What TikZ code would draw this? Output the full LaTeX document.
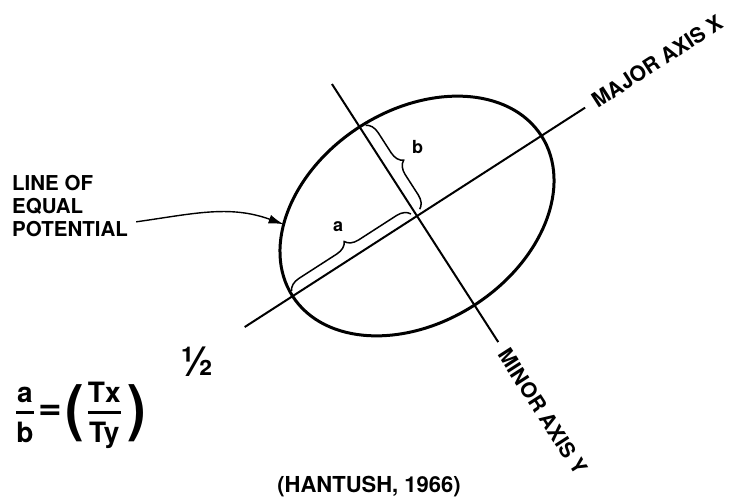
\documentclass[tikz,border=0pt]{standalone}
\usepackage{amsmath}
\usepackage{graphicx}
\usepackage{fontspec}
\setmainfont{TeX Gyre Heros}
\usepackage{tikz}
\usetikzlibrary{arrows.meta,calc,decorations.pathreplacing}
\tikzset{
  ell/.style={draw=black,line width=3pt},
  axl/.style={draw=black,line width=2pt},
  brc/.style={decorate,decoration={brace,amplitude=13pt},line width=1.5pt},
  lbl/.style={font=\fontsize{18}{18}\selectfont\bfseries,inner sep=0pt},
  axtxt/.style={font=\fontsize{21}{21}\selectfont\bfseries,inner sep=0pt},
  lbltxt/.style={font=\fontsize{20.5}{23}\selectfont\bfseries,align=left,inner sep=0pt},
  captxt/.style={font=\fontsize{22}{22}\selectfont\bfseries,inner sep=0pt},
  eqtxt/.style={font=\fontsize{28}{30}\selectfont\bfseries,inner sep=0pt},
  arr/.style={-{Latex[length=15pt,width=9pt]},line width=1.4pt},
}
\begin{document}
\begin{tikzpicture}[x=1pt,y=1pt]
\useasboundingbox (0,0) rectangle (738,501);
\begin{scope}[shift={(417,285)},rotate=32.8]
\coordinate (o) at (0,0);
\coordinate (xl) at (-205,0);
\coordinate (xr) at (200,0);
\coordinate (yt) at (0,157);
\coordinate (yb) at (0,-150);
\coordinate (eqp) at (142:148 and 106);
\draw[ell] (o) ellipse [x radius=148,y radius=106];
\draw[axl] (xl) -- (xr);
\draw[axl] (yt) -- (yb);
\draw[brc] (-146,5) -- (-4,5);
\draw[brc] (6,104) -- (6,4);
\node[lbl] (la) at (-72,34) {a};
\node[lbl] (lb) at (38,58) {b};
\node[axtxt,anchor=west,rotate=32.8] (majx) at (210,0) {MAJOR AXIS X};
\node[axtxt,anchor=west,rotate=-57.2] (miny) at (0,-160) {MINOR AXIS Y};
\end{scope}
\node[lbltxt,anchor=north west] (lep) at (12,326) {LINE OF\\EQUAL\\POTENTIAL};
\draw[arr] ([shift={(8,15)}]lep.south east) to[out=8,in=160] (eqp);
\node[eqtxt,anchor=base west] (frm) at (15,82) {$\genfrac{}{}{2.6pt}{0}{\text{a}}{\text{b}}\mkern3mu\vcenter{\hbox{\scalebox{1.45}[1.3]{=}}}\mkern2mu\vcenter{\hbox{\scalebox{2}[2.2]{(}}}\mkern2mu\genfrac{}{}{2.6pt}{0}{\text{Tx}}{\text{Ty}}\mkern4mu\vcenter{\hbox{\scalebox{2}[2.2]{)}}}\hspace{35pt}\raisebox{44pt}{\fontsize{40}{40}\selectfont ½}$};
\node[captxt] (src) at (369,14) {(HANTUSH, 1966)};
\end{tikzpicture}
\end{document}
